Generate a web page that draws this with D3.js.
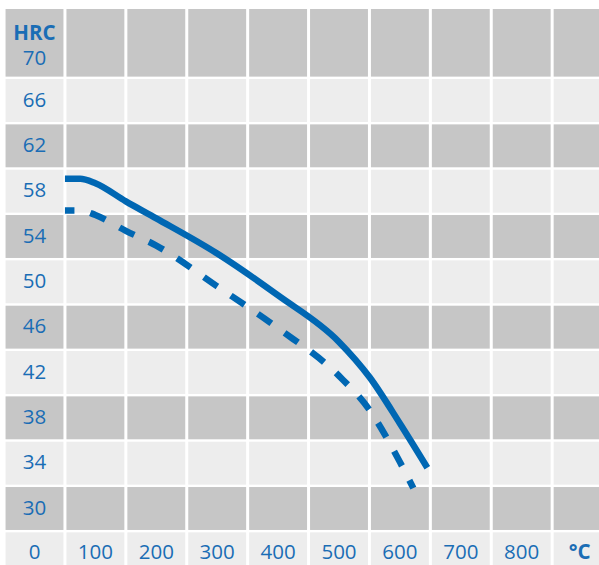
<!DOCTYPE html>
<html>
<head>
<meta charset="utf-8">
<script src="https://cdn.jsdelivr.net/npm/d3@7"></script>
<style>
  html, body { margin: 0; padding: 0; background: #ffffff; }
  svg { display: block; }
</style>
</head>
<body>
<svg id="chart" width="599" height="565"></svg>
<script>
// ---- data ----
const xLabels = ["0", "100", "200", "300", "400", "500", "600", "700", "800", "°C"];
const yTicks = [70, 66, 62, 58, 54, 50, 46, 42, 38, 34, 30];
const yUnit = "HRC";

const solidTemp = [50, 75, 100, 150, 200, 300, 400, 500, 550, 600, 645];
const solidHRC  = [59.1, 59.1, 58.7, 57.1, 55.6, 52.5, 48.8, 44.7, 41.6, 37.5, 33.6];

const dashTemp = [50, 75, 100, 150, 200, 300, 400, 500, 550, 600, 622];
const dashHRC  = [56.3, 56.3, 55.9, 54.5, 53.2, 49.6, 45.9, 41.7, 38.7, 34.1, 31.8];

// ---- layout ----
const svg = d3.select("#chart");
const colStep = 60.9, colGap = 3;
const x = d3.scaleLinear().domain([0, 100]).range([34.5, 34.5 + colStep]);
const y = d3.scaleLinear().domain([66, 30]).range([100.5, 508.5]);
const rowStep = (y(30) - y(66)) / 9;
const rowGap = 2.4;
const dark = "#c6c6c6", light = "#ededed";
const blue = "#0067b3", textBlue = "#1a6db5";

// rows: tick rows plus the label row (value 26)
const rowVals = yTicks.concat([26]);
rowVals.forEach((v, ri) => {
  const cy = y(v);
  let top = cy - rowStep / 2 + rowGap / 2;
  let bot = cy + rowStep / 2 - rowGap / 2;
  if (ri === 0) top = 9;
  if (v === 26) bot = 570;
  const fill = (ri % 2 === 0) ? dark : light;
  xLabels.forEach((lab, ci) => {
    const cx = x(ci * 100);
    const left = cx - colStep / 2 + colGap / 2;
    const w = colStep - colGap;
    svg.append("rect")
      .attr("x", left).attr("y", top)
      .attr("width", w).attr("height", bot - top)
      .attr("fill", fill);
  });
});

const font = "'Open Sans', 'Noto Sans', sans-serif";
const fs = 20.5;

// y labels
svg.append("g").selectAll("text").data(yTicks).join("text")
  .attr("x", x(0)).attr("y", d => d === 70 ? y(d) + 1.8 : y(d) - 2)
  .attr("text-anchor", "middle").attr("dominant-baseline", "central")
  .attr("font-family", font).attr("font-size", fs).attr("fill", textBlue)
  .text(d => d);

svg.append("text")
  .attr("x", x(0)).attr("y", 31.5)
  .attr("text-anchor", "middle").attr("dominant-baseline", "central")
  .attr("font-family", font).attr("font-size", fs).attr("font-weight", "bold")
  .attr("fill", textBlue).text(yUnit);

// x labels
svg.append("g").selectAll("text").data(xLabels).join("text")
  .attr("x", (d, i) => d === "°C" ? x(i * 100) - 3 : x(i * 100)).attr("y", y(26) - 2.5)
  .attr("text-anchor", "middle").attr("dominant-baseline", "central")
  .attr("font-family", font).attr("font-size", fs)
  .attr("font-weight", d => d === "°C" ? "bold" : "normal")
  .attr("fill", textBlue)
  .text(d => d);

// curves
const line = d3.line().x(d => x(d[0])).y(d => y(d[1])).curve(d3.curveMonotoneX);

svg.append("path")
  .attr("d", line(solidTemp.map((t, i) => [t, solidHRC[i]])))
  .attr("fill", "none").attr("stroke", blue).attr("stroke-width", 6.5);

svg.append("path")
  .attr("d", line(dashTemp.map((t, i) => [t, dashHRC[i]])))
  .attr("fill", "none").attr("stroke", blue).attr("stroke-width", 6.5)
  .attr("stroke-dasharray", "16.5 16.2").attr("stroke-dashoffset", 7);
</script>
</body>
</html>
